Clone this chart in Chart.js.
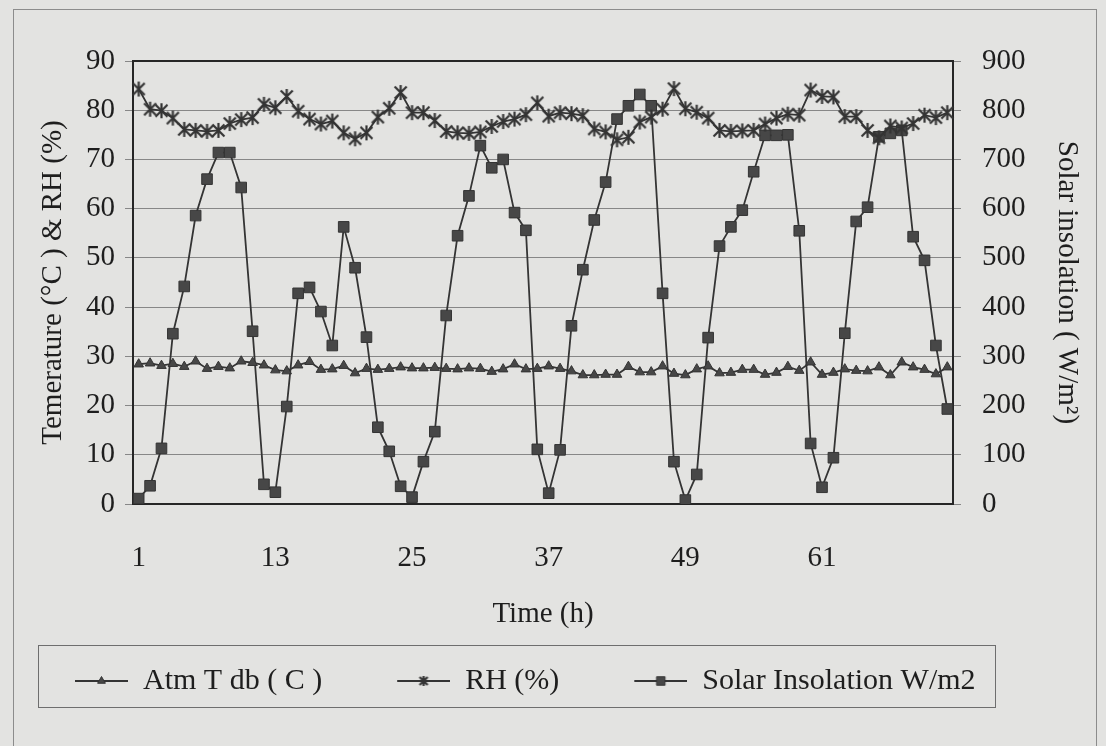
<!DOCTYPE html>
<html>
<head>
<meta charset="utf-8">
<script src="https://cdn.jsdelivr.net/npm/chart.js@4.4.1/dist/chart.umd.min.js"></script>
<style>
  html, body { margin: 0; padding: 0; background: #e3e3e1; }
  #wrap { width: 1106px; height: 746px; }
</style>
</head>
<body>
<div id="wrap"><canvas id="chart" width="1106" height="746"></canvas></div>
<script>
// hours of the drying trial
const hours = [1,2,3,4,5,6,7,8,9,10,11,12,13,14,15,16,17,18,19,20,21,22,23,24,
  25,26,27,28,29,30,31,32,33,34,35,36,37,38,39,40,41,42,43,44,45,46,47,48,
  49,50,51,52,53,54,55,56,57,58,59,60,61,62,63,64,65,66,67,68,69,70,71,72]
const tickHours = [1, 13, 25, 37, 49, 61]

// Atm T db (C)
const tempC = [28.4,28.6,28.1,28.5,27.9,29.0,27.5,27.9,27.6,29.0,28.7,28.2,
  27.2,27.0,28.2,28.9,27.3,27.4,28.1,26.6,27.5,27.3,27.5,27.8,
  27.6,27.6,27.7,27.5,27.4,27.6,27.5,26.9,27.4,28.4,27.4,27.5,
  28.0,27.5,27.0,26.2,26.2,26.3,26.3,27.9,26.8,26.8,28.0,26.5,
  26.2,27.4,28.0,26.6,26.7,27.3,27.3,26.3,26.7,27.9,27.1,28.8,
  26.3,26.7,27.4,27.1,27.0,27.8,26.2,28.8,27.8,27.3,26.4,27.8]

// RH (%)
const rhPct = [84.3,80.2,79.9,78.4,76.1,75.9,75.7,75.9,77.3,78.1,78.5,81.2,
  80.5,82.8,79.8,78.2,77.2,77.8,75.4,74.2,75.4,78.6,80.4,83.6,
  79.5,79.5,77.9,75.7,75.4,75.3,75.6,76.7,77.7,78.2,79.1,81.5,
  78.8,79.5,79.3,78.9,76.2,75.6,74.0,74.5,77.6,78.6,80.2,84.4,
  80.3,79.6,78.4,75.9,75.7,75.8,75.9,77.2,78.4,79.2,79.0,84.1,
  82.8,82.7,78.7,78.7,75.9,74.4,76.8,76.4,77.3,79.0,78.5,79.5]

// Solar insolation W/m2
const solar = [11,37,113,346,442,586,660,714,714,643,351,40,
  24,198,428,440,391,322,563,480,339,156,107,36,
  14,86,147,383,545,626,728,683,700,592,556,111,
  22,110,362,476,577,654,782,809,832,809,428,86,
  8,60,338,524,563,597,675,749,749,750,555,123,
  34,94,347,574,603,746,753,759,543,495,322,193]

const seriesNames = ['Atm T db ( C )', 'RH (%)', 'Solar Insolation W/m2']

const ink = '#343434'
const serif = 'Liberation Serif'
const paper = '#e3e3e1'

// excel style star: an X with a vertical bar
function starMarker(r) {
    const c = document.createElement('canvas')
    c.width = r * 2 + 4
    c.height = r * 2 + 4
    const g = c.getContext('2d')
    const m = r + 2
    const d = r * 0.8
    g.strokeStyle = ink
    g.lineWidth = 2.2
    g.beginPath()
    g.moveTo(m - d, m - d); g.lineTo(m + d, m + d)
    g.moveTo(m + d, m - d); g.lineTo(m - d, m + d)
    g.moveTo(m, m - r); g.lineTo(m, m + r)
    g.stroke()
    return c
}
const star = starMarker(7.5)
const starSmall = starMarker(5)

function legendSwatch(kind) {
    const c = document.createElement('canvas')
    c.width = 112
    c.height = 22
    const g = c.getContext('2d')
    g.strokeStyle = ink
    g.fillStyle = '#474747'
    g.lineWidth = 1.8
    g.beginPath(); g.moveTo(59, 11); g.lineTo(112, 11); g.stroke()
    if (kind == 'star') {
        g.drawImage(starSmall, 85.5 - starSmall.width / 2, 11 - starSmall.height / 2)
    } else {
        g.lineWidth = 1
        Chart.helpers.drawPoint(g, {pointStyle: kind, radius: kind == 'rect' ? 6 : 4.5, borderWidth: 1}, 85.5, 11)
    }
    return c
}

const paperFrame = {
    id: 'paperFrame',
    beforeDraw(chart) {
        const {ctx, width, height} = chart
        ctx.save()
        ctx.fillStyle = paper
        ctx.fillRect(0, 0, width, height)
        ctx.strokeStyle = '#8c8c8c'
        ctx.lineWidth = 1
        ctx.strokeRect(13.5, 9.5, 1083, 800)
        ctx.restore()
    },
    beforeDatasetsDraw(chart) {
        const {ctx, chartArea: a} = chart
        ctx.save()
        ctx.strokeStyle = '#262626'
        ctx.lineWidth = 2
        ctx.strokeRect(a.left, a.top, a.right - a.left, a.bottom - a.top)
        ctx.restore()
    },
    afterDraw(chart) {
        const {ctx, legend} = chart
        ctx.save()
        ctx.strokeStyle = '#6e6e6e'
        ctx.lineWidth = 1
        ctx.strokeRect(38.5, legend.top - 4.5, 957, 62)
        ctx.restore()
    }
}

const tickFont = {family: serif, size: 29}
const titleFont = {family: serif, size: 29}

new Chart('chart', {
    type: 'line',
    data: {
        labels: hours,
        datasets: [{
            label: seriesNames[0],
            data: tempC,
            yAxisID: 'y',
            borderColor: ink,
            borderWidth: 1.8,
            pointStyle: 'triangle',
            pointRadius: 5.5,
            pointBackgroundColor: '#474747',
            pointBorderColor: ink,
            pointBorderWidth: 1,
            tension: 0
        }, {
            label: seriesNames[1],
            data: rhPct,
            yAxisID: 'y',
            borderColor: ink,
            borderWidth: 1.8,
            pointStyle: star,
            pointRadius: 7,
            tension: 0
        }, {
            label: seriesNames[2],
            data: solar,
            yAxisID: 'y2',
            borderColor: ink,
            borderWidth: 1.8,
            pointStyle: 'rect',
            pointRadius: 7.5,
            pointBackgroundColor: '#474747',
            pointBorderColor: ink,
            pointBorderWidth: 1,
            tension: 0
        }]
    },
    options: {
        responsive: false,
        animation: false,
        layout: {padding: {top: 61, left: 0, right: 0, bottom: 40}},
        plugins: {
            tooltip: {enabled: false},
            legend: {
                position: 'bottom',
                align: 'start',
                labels: {
                    usePointStyle: true,
                    pointStyleWidth: 112,
                    padding: 16,
                    color: '#1e1e1e',
                    font: {family: serif, size: 30},
                    generateLabels: (chart) => chart.data.datasets.map((ds, i) => ({
                        text: ds.label,
                        pointStyle: legendSwatch(['triangle', 'star', 'rect'][i]),
                        fontColor: '#1e1e1e',
                        datasetIndex: i,
                        hidden: false,
                        lineWidth: 0,
                        strokeStyle: 'transparent',
                        fillStyle: 'transparent'
                    }))
                }
            }
        },
        scales: {
            x: {
                offset: true,
                grid: {display: false},
                border: {display: false},
                ticks: {
                    autoSkip: false,
                    maxRotation: 0,
                    padding: 29,
                    color: '#1e1e1e',
                    font: tickFont,
                    callback: (v, i) => tickHours.includes(hours[i]) ? String(hours[i]) : ''
                },
                title: {display: true, text: 'Time (h)', color: '#1e1e1e', font: titleFont, padding: {top: 0, bottom: 18}},
                afterFit: (s) => { s.height = 146 }
            },
            y: {
                min: 0,
                max: 90,
                border: {display: false},
                grid: {color: '#878787', lineWidth: 1, drawTicks: true, tickLength: 8},
                ticks: {stepSize: 10, padding: 10, color: '#1e1e1e', font: tickFont},
                title: {display: true, text: 'Temerature (\u00B0C ) & RH (%)', color: '#1e1e1e', font: titleFont, padding: {top: 36, bottom: 0}},
                afterFit: (s) => { s.width = 133 }
            },
            y2: {
                position: 'right',
                min: 0,
                max: 900,
                border: {display: false},
                grid: {drawOnChartArea: false, color: '#878787', drawTicks: true, tickLength: 8},
                ticks: {stepSize: 100, padding: 21, color: '#1e1e1e', font: tickFont},
                title: {display: true, text: 'Solar insolation ( W/m\u00B2)', color: '#1e1e1e', font: titleFont, padding: {top: 22, bottom: 0}},
                afterFit: (s) => { s.width = 153 }
            }
        }
    },
    plugins: [paperFrame]
})
</script>
</body>
</html>
